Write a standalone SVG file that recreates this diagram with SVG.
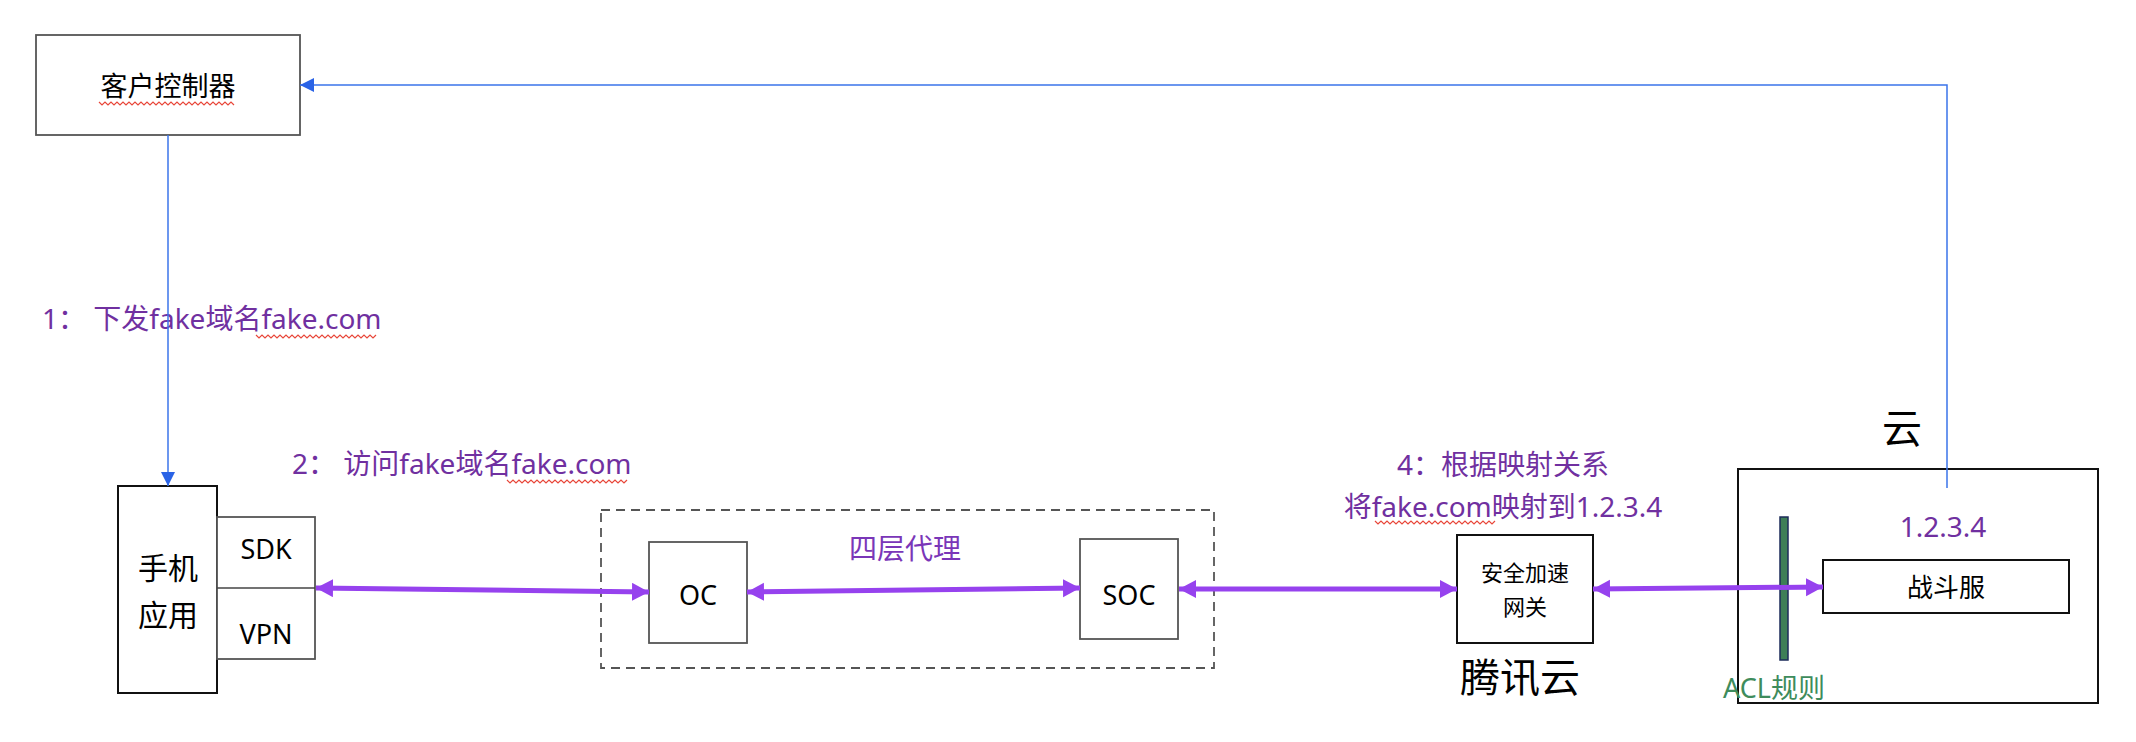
<svg xmlns="http://www.w3.org/2000/svg" width="2136" height="742" viewBox="0 0 2136 742">
<style>
text{font-family:"Noto Sans","Noto Sans CJK SC",sans-serif;fill:#000}
.lbl{fill:#7030A0;font-size:28px}
.box{fill:#fff;stroke:#555;stroke-width:1.8}
.bbox{fill:#fff;stroke:#111;stroke-width:2}
.blue{fill:none;stroke:#3B74EA;stroke-width:1.5}
.purple{fill:none;stroke:#9642EE;stroke-width:5}
.sq{fill:none;stroke:#E8473A;stroke-width:1.2}
.c{text-anchor:middle}
</style>
<defs>
<marker id="ab" markerUnits="userSpaceOnUse" markerWidth="16" markerHeight="16" refX="14" refY="7" orient="auto">
<path d="M0,0 L14,7 L0,14 Z" fill="#2A63E6"/>
</marker>
<marker id="ap" markerUnits="userSpaceOnUse" markerWidth="20" markerHeight="20" refX="17" refY="9" orient="auto-start-reverse">
<path d="M0,0 L17,9 L0,18 Z" fill="#9642EE"/>
</marker>
</defs>

<g id="client-controller">
<rect class="box" x="36" y="35" width="264" height="100"/>
<text class="c" x="168" y="96" font-size="27">客户控制器</text>
<path class="sq" d="M99,102 l3,3 l3,-3 l3,3 l3,-3 l3,3 l3,-3 l3,3 l3,-3 l3,3 l3,-3 l3,3 l3,-3 l3,3 l3,-3 l3,3 l3,-3 l3,3 l3,-3 l3,3 l3,-3 l3,3 l3,-3 l3,3 l3,-3 l3,3 l3,-3 l3,3 l3,-3 l3,3 l3,-3 l3,3 l3,-3 l3,3 l3,-3 l3,3 l3,-3 l3,3 l3,-3 l3,3 l3,-3 l3,3 l3,-3 l3,3 l3,-3 l3,3"/>
</g>

<g id="phone-app">
<rect class="bbox" x="118" y="486" width="99" height="207"/>
<text class="c" x="168" y="579" font-size="30">手机</text>
<text class="c" x="168" y="626" font-size="30">应用</text>
</g>

<g id="sdk-vpn">
<rect class="box" x="217" y="517" width="98" height="142"/>
<line x1="217" y1="588" x2="315" y2="588" stroke="#444" stroke-width="1.5"/>
<text class="c" x="266" y="559" font-size="27">SDK</text>
<text class="c" x="266" y="644" font-size="27">VPN</text>
</g>

<g id="l4-proxy">
<rect x="601" y="510" width="613" height="158" fill="none" stroke="#555" stroke-width="1.8" stroke-dasharray="9,6"/>
<text class="lbl c" x="905" y="559" style="fill:#7a36b8" font-size="26">四层代理</text>
</g>

<g id="oc">
<rect class="box" x="649" y="542" width="98" height="101"/>
<text class="c" x="698" y="605" font-size="27">OC</text>
</g>

<g id="soc">
<rect class="box" x="1080" y="539" width="98" height="100"/>
<text class="c" x="1129" y="605" font-size="27">SOC</text>
</g>

<g id="gateway">
<rect class="bbox" x="1457" y="535" width="136" height="108"/>
<text class="c" x="1525" y="581" font-size="22">安全加速</text>
<text class="c" x="1525" y="615" font-size="22">网关</text>
<text class="c" x="1520" y="692" font-size="40">腾讯云</text>
</g>

<g id="cloud">
<text class="c" x="1902" y="443" font-size="40">云</text>
<rect class="bbox" x="1738" y="469" width="360" height="234"/>
<text class="lbl c" x="1943" y="537" font-size="26">1.2.3.4</text>
</g>

<g id="battle-server">
<rect class="bbox" x="1823" y="560" width="246" height="53" stroke-width="2.5"/>
<text class="c" x="1946" y="597" font-size="26">战斗服</text>
</g>

<g id="acl">
<rect x="1780" y="517" width="8" height="143" fill="#3E7F57" stroke="#1C2B5A" stroke-width="1.5"/>
<text x="1723" y="698" font-size="27" style="fill:#3E8C5C">ACL规则</text>
</g>

<g id="labels">
<text class="lbl" x="42" y="329">1：  下发fake域名fake.com</text>
<path class="sq" d="M256,335 l3,3 l3,-3 l3,3 l3,-3 l3,3 l3,-3 l3,3 l3,-3 l3,3 l3,-3 l3,3 l3,-3 l3,3 l3,-3 l3,3 l3,-3 l3,3 l3,-3 l3,3 l3,-3 l3,3 l3,-3 l3,3 l3,-3 l3,3 l3,-3 l3,3 l3,-3 l3,3 l3,-3 l3,3 l3,-3 l3,3 l3,-3 l3,3 l3,-3 l3,3 l3,-3 l3,3 l3,-3"/>
<text class="lbl" x="292" y="474">2：  访问fake域名fake.com</text>
<path class="sq" d="M507,480 l3,3 l3,-3 l3,3 l3,-3 l3,3 l3,-3 l3,3 l3,-3 l3,3 l3,-3 l3,3 l3,-3 l3,3 l3,-3 l3,3 l3,-3 l3,3 l3,-3 l3,3 l3,-3 l3,3 l3,-3 l3,3 l3,-3 l3,3 l3,-3 l3,3 l3,-3 l3,3 l3,-3 l3,3 l3,-3 l3,3 l3,-3 l3,3 l3,-3 l3,3 l3,-3 l3,3 l3,-3"/>
<text class="lbl c" x="1503" y="475">4：根据映射关系</text>
<text class="lbl c" x="1503" y="517">将fake.com映射到1.2.3.4</text>
<path class="sq" d="M1375,521 l3,3 l3,-3 l3,3 l3,-3 l3,3 l3,-3 l3,3 l3,-3 l3,3 l3,-3 l3,3 l3,-3 l3,3 l3,-3 l3,3 l3,-3 l3,3 l3,-3 l3,3 l3,-3 l3,3 l3,-3 l3,3 l3,-3 l3,3 l3,-3 l3,3 l3,-3 l3,3 l3,-3 l3,3 l3,-3 l3,3 l3,-3 l3,3 l3,-3 l3,3 l3,-3 l3,3 l3,-3"/>
</g>

<g id="connectors">
<line class="blue" x1="168" y1="135" x2="168" y2="486" marker-end="url(#ab)"/>
<polyline class="blue" points="1947,488 1947,85 300,85" marker-end="url(#ab)"/>
<line class="purple" x1="316" y1="588" x2="649" y2="592" marker-start="url(#ap)" marker-end="url(#ap)"/>
<line class="purple" x1="747" y1="592" x2="1080" y2="588" marker-start="url(#ap)" marker-end="url(#ap)"/>
<line class="purple" x1="1179" y1="589" x2="1457" y2="589" marker-start="url(#ap)" marker-end="url(#ap)"/>
<line class="purple" x1="1593" y1="589" x2="1823" y2="587" marker-start="url(#ap)" marker-end="url(#ap)"/>
</g>
</svg>
